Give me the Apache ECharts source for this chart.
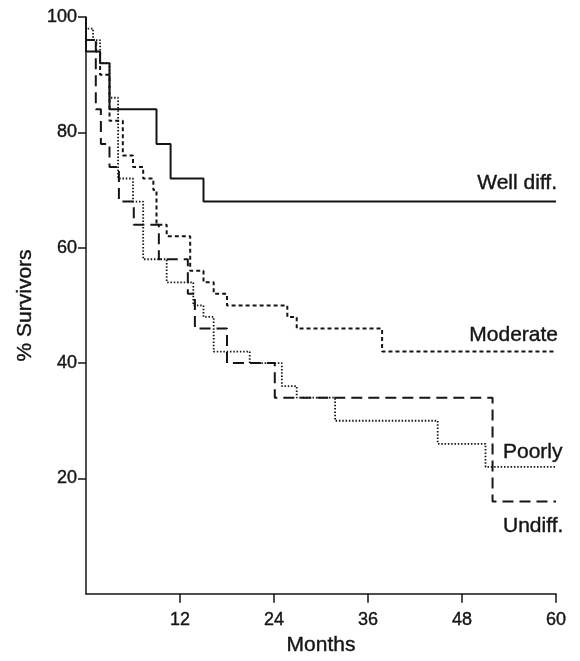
<!DOCTYPE html>
<html>
<head>
<meta charset="utf-8">
<script src="https://cdn.jsdelivr.net/npm/echarts@6/dist/echarts.min.js"></script>
<style>
  html, body { margin: 0; padding: 0; background: #fff; }
  #chart { width: 580px; height: 661px; }
</style>
</head>
<body>
<div id="chart"></div>
<script>
(function () {
  "use strict";

  var INK = "#151515";
  var FONT = "Liberation Sans, Arial, sans-serif";

  // months / % survivors
  var wellT = [0, 0, 1.8, 3.0, 9.0, 10.8, 15.0, 60];
  var wellS = [100, 94, 92, 84, 78, 72, 68, 68];

  var modT = [0, 0, 1.3, 1.8, 3.0, 4.7, 6.0, 7.3, 8.6, 9.0, 10.3, 13.3, 15.0, 16.3, 18.0, 25.7, 26.9, 37.8, 60];
  var modS = [100, 96, 94, 90, 82, 76, 74, 72, 70, 64, 62, 56, 54, 52, 50, 48, 46, 42, 42];

  var poorT = [0, 0, 0.9, 1.8, 3.0, 4.1, 6.0, 7.3, 10.3, 13.7, 15.0, 16.3, 20.9, 25.0, 26.9, 31.8, 44.9, 51.0, 60];
  var poorS = [100, 98, 96, 92, 86, 72, 68, 58, 54, 50, 48, 42, 40, 36, 34, 30, 26, 22, 22];

  var undT = [0, 0, 1.25, 1.9, 3.0, 4.2, 6.1, 9.3, 13.0, 13.9, 18.0, 24.1, 51.9, 60];
  var undS = [100, 96, 84, 78, 74, 68, 64, 58, 52, 46, 40, 34, 16, 16];

  var monthTicks = [12, 24, 36, 48, 60];
  var survTicks = [20, 40, 60, 80, 100];

  function pairs(t, s) {
    return t.map(function (x, i) { return [x, s[i]]; });
  }

  function curve(name, t, s, width, dash) {
    return {
      name: name,
      type: "line",
      step: "end",
      symbol: "none",
      silent: true,
      data: pairs(t, s),
      lineStyle: { color: INK, width: width, type: dash }
    };
  }

  // a thin outline in the ink colour gives the text the heavier print look
  var heavy = { textBorderColor: INK, textBorderWidth: 0.4 };

  var chart = echarts.init(document.getElementById("chart"), null, { renderer: "canvas" });

  chart.setOption({
    animation: false,
    backgroundColor: "#fff",
    textStyle: { fontFamily: FONT, color: INK },
    grid: { left: 86, top: 17, width: 470, height: 586 },
    xAxis: {
      type: "value",
      min: 0,
      max: 60,
      interval: 12,
      name: "Months",
      nameLocation: "middle",
      nameGap: 41,
      nameTextStyle: Object.assign({ fontSize: 21, color: INK, fontFamily: FONT }, heavy),
      axisLine: { lineStyle: { color: INK, width: 1.5 } },
      axisTick: { show: true, length: 9, lineStyle: { color: INK, width: 1.5 }, customValues: monthTicks },
      axisLabel: Object.assign({ fontSize: 18, color: INK, margin: 17, customValues: monthTicks }, heavy),
      splitLine: { show: false }
    },
    yAxis: {
      type: "value",
      min: 0,
      max: 100,
      interval: 20,
      name: "% Survivors",
      nameLocation: "middle",
      nameGap: 50,
      nameRotate: 90,
      nameTextStyle: Object.assign({ fontSize: 21, color: INK, fontFamily: FONT }, heavy),
      axisLine: { show: true, lineStyle: { color: INK, width: 1.5 } },
      axisTick: { show: true, length: 8, lineStyle: { color: INK, width: 1.5 }, customValues: survTicks },
      axisLabel: Object.assign({ fontSize: 18, color: INK, margin: 9, customValues: survTicks }, heavy),
      splitLine: { show: false }
    },
    series: [
      curve("Well diff.", wellT, wellS, 2, "solid"),
      curve("Moderate", modT, modS, 2, [4, 3]),
      curve("Poorly", poorT, poorS, 1.8, [1.5, 1.8]),
      curve("Undiff.", undT, undS, 2, [11, 6])
    ]
  });

  // curve names sit next to the end of each line
  var ends = [
    { text: "Well diff.", v: wellS[wellS.length - 1], dx: 1, dy: -18, align: "right" },
    { text: "Moderate", v: modS[modS.length - 1], dx: 2, dy: -16, align: "right" },
    { text: "Poorly", v: poorS[poorS.length - 1], dx: -53, dy: -15, align: "left" },
    { text: "Undiff.", v: undS[undS.length - 1], dx: -53, dy: 25, align: "left" }
  ];

  chart.setOption({
    graphic: ends.map(function (e) {
      var p = chart.convertToPixel({ gridIndex: 0 }, [60, e.v]);
      return {
        type: "text",
        x: p[0] + e.dx,
        y: p[1] + e.dy,
        silent: true,
        style: {
          text: e.text,
          fontSize: 21,
          fontFamily: FONT,
          fill: INK,
          stroke: INK,
          lineWidth: 0.4,
          align: e.align,
          verticalAlign: "middle"
        }
      };
    })
  });
})();
</script>
</body>
</html>
